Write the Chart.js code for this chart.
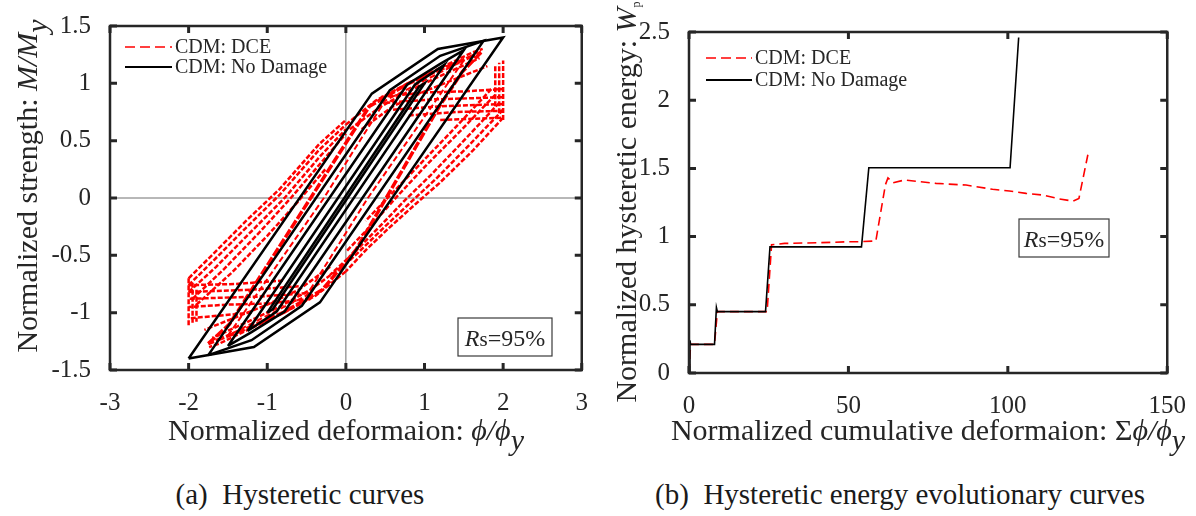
<!DOCTYPE html>
<html>
<head>
<meta charset="utf-8">
<script src="https://cdn.jsdelivr.net/npm/chart.js@4.4.1/dist/chart.umd.min.js"></script>
<style>
  body { margin: 0; width: 1196px; height: 516px; background: #fff; position: relative; overflow: hidden; }
  .panel { position: absolute; top: 0; width: 598px; height: 470px; }
  .caption { position: absolute; top: 478px; height: 36px; line-height: 36px; text-align: center;
             font: 29px 'Liberation Serif', 'Times New Roman', serif; color: #1a1a1a; white-space: pre; }
</style>
</head>
<body>
<div class="panel" style="left:0"><canvas id="hyst" width="598" height="470"></canvas></div>
<div class="panel" style="left:598px"><canvas id="energy" width="598" height="470"></canvas></div>
<div class="caption" style="left:0;width:600px">(a)  Hysteretic curves</div>
<div class="caption" style="left:598px;width:604px">(b)  Hysteretic energy evolutionary curves</div>
<script>
const FONT = "'Liberation Serif', 'Times New Roman', serif";
const INK = '#262626';
const RED = '#ff0000';

// ---- (a) hysteretic curves ----
const hystXTicks = [-3, -2, -1, 0, 1, 2, 3];
const hystYTicks = [-1.5, -1, -0.5, 0, 0.5, 1, 1.5];

// reference lines through the origin
const zeroH = [[-3, 0], [3, 0]];
const zeroV = [[0, -1.5], [0, 1.5]];

// CDM: No Damage, one closed loop per amplitude
const loop200 = [[-2, -1.4], [0.33, 0.91], [1.17, 1.3], [2, 1.4], [-0.33, -0.91], [-1.17, -1.3], [-2, -1.4]];
const loop175 = [[-1.75, -1.37], [0.56, 0.94], [1.2, 1.24], [1.75, 1.37], [-0.56, -0.94], [-1.2, -1.24], [-1.75, -1.37]];
const loop150 = [[-1.5, -1.29], [0.78, 0.99], [1.2, 1.17], [1.5, 1.29], [-0.78, -0.99], [-1.2, -1.17], [-1.5, -1.29]];
const loop125 = [[-1.25, -1.16], [0.88, 0.99], [1.25, 1.16], [-0.88, -0.99], [-1.25, -1.16]];
const loop100 = [[-1, -1.0], [0.93, 0.97], [1, 1.0], [-0.93, -0.97], [-1, -1.0]];

// CDM: DCE, traced strand by strand
// band rising from the left end towards (0, 0.6)
const dceUL1 = [[-2, -0.7], [-1.69, -0.49], [-1.27, -0.2], [-0.84, 0.08], [-0.34, 0.47], [0, 0.68]];
const dceUL2 = [[-2, -0.76], [-1.69, -0.55], [-1.27, -0.26], [-0.84, 0.03], [-0.34, 0.42], [0, 0.64]];
const dceUL3 = [[-2, -0.82], [-1.65, -0.6], [-1.2, -0.29], [-0.78, 0.0], [-0.32, 0.37], [0, 0.6]];
const dceUL4 = [[-1.95, -0.88], [-1.55, -0.62], [-1.1, -0.3], [-0.7, 0.0], [-0.3, 0.32], [0, 0.56]];
const dceUL5 = [[-1.9, -0.93], [-1.45, -0.65], [-1.0, -0.33], [-0.62, -0.04], [-0.25, 0.26]];
// band falling from the right end towards (0, -0.6)
const dceLR1 = [[2, 0.7], [1.61, 0.41], [1.19, 0.13], [0.89, -0.05], [0.55, -0.26], [0.26, -0.45], [0, -0.64]];
const dceLR2 = [[2, 0.77], [1.58, 0.47], [1.15, 0.17], [0.82, -0.04], [0.48, -0.26], [0.18, -0.46], [-0.1, -0.64]];
const dceLR3 = [[1.95, 0.83], [1.5, 0.5], [1.08, 0.2], [0.75, -0.02], [0.4, -0.27], [0.1, -0.48], [-0.2, -0.67]];
const dceLR4 = [[1.9, 0.9], [1.45, 0.58], [1.0, 0.27], [0.66, 0.02], [0.32, -0.24], [0, -0.47]];
const dceLR5 = [[1.85, 0.95], [1.4, 0.62], [0.95, 0.3], [0.6, 0.05], [0.25, -0.2]];
// upper right cap
const dceUREnv1 = [[0, 0.64], [0.38, 0.85], [0.76, 0.99], [1.19, 1.13], [1.61, 1.27], [1.74, 1.3]];
const dceUREnv2 = [[0.05, 0.6], [0.45, 0.8], [0.85, 0.95], [1.25, 1.08], [1.7, 1.22]];
const dceUREnv3 = [[0.2, 0.6], [0.6, 0.8], [1.0, 0.93], [1.4, 1.04], [1.8, 1.15]];
const dceURH1 = [[0.45, 0.88], [1.0, 0.92], [1.5, 0.93], [2, 0.95]];
const dceURH2 = [[0.5, 0.83], [1.1, 0.86], [1.6, 0.87], [2, 0.88]];
const dceURH3 = [[0.6, 0.77], [1.2, 0.8], [2, 0.82]];
const dceURH4 = [[0.8, 0.72], [1.4, 0.75], [2, 0.76]];
const dceURH5 = [[1.2, 0.68], [2, 0.7]];
const dceRight1 = [[2, 0.68], [2, 1.2]];
const dceRight2 = [[1.95, 0.74], [1.95, 1.18]];
const dceRight3 = [[1.9, 0.8], [1.9, 1.15]];
// lower left cap
const dceLLEnv1 = [[0, -0.64], [-0.38, -0.85], [-0.76, -0.99], [-1.19, -1.13], [-1.61, -1.27], [-1.74, -1.3]];
const dceLLEnv2 = [[-0.05, -0.6], [-0.45, -0.8], [-0.85, -0.95], [-1.25, -1.08], [-1.7, -1.22]];
const dceLLEnv3 = [[-0.2, -0.6], [-0.6, -0.8], [-1.0, -0.93], [-1.4, -1.04], [-1.8, -1.15]];
const dceLLH1 = [[-0.45, -0.88], [-1.0, -0.92], [-1.5, -0.93], [-2, -0.95]];
const dceLLH2 = [[-0.5, -0.83], [-1.1, -0.86], [-1.6, -0.87], [-2, -0.88]];
const dceLLH3 = [[-0.6, -0.77], [-1.2, -0.8], [-2, -0.82]];
const dceLLH4 = [[-0.8, -0.72], [-1.4, -0.75], [-2, -0.76]];
const dceLLH5 = [[-1.2, -1.0], [-2, -1.05]];
const dceLeft1 = [[-2, -0.7], [-2, -1.12]];
const dceLeft2 = [[-1.95, -0.74], [-1.95, -1.1]];
const dceLeft3 = [[-1.9, -0.8], [-1.9, -1.08]];
// inner cycles that stay close to the undamaged loops
const dceInnerUp = [[-1.75, -1.27], [-1.48, -1.1], [-0.42, 0.03], [0.3, 0.8], [0.8, 1.0], [1.3, 1.15], [1.72, 1.27]];
const dceInnerDown = [[1.72, 1.27], [1.48, 1.1], [1.19, 0.8], [0.13, -0.45], [-0.3, -0.8], [-0.8, -1.0], [-1.3, -1.15], [-1.75, -1.27]];
const dceInner2Up = [[-1.5, -1.2], [-0.28, 0.0], [0.5, 0.85], [1.5, 1.2]];
const dceInner2Down = [[1.5, 1.2], [0.28, 0.0], [-0.5, -0.85], [-1.5, -1.2]];

// ---- (b) hysteretic energy evolution ----
const energyXTicks = [0, 50, 100, 150];
const energyYTicks = [0, 0.5, 1, 1.5, 2, 2.5];
const cumDefNoDamage = [0, 0.3, 0.5, 8.0, 8.6, 8.9, 24.0, 25.4, 54.1, 56.4, 100.7, 103.4];
const energyNoDamage = [0, 0.24, 0.21, 0.21, 0.48, 0.45, 0.45, 0.925, 0.925, 1.505, 1.505, 2.46];
const cumDefDCE = [0, 0.5, 8.0, 8.9, 24.5, 25.9, 30, 40, 50, 54.2, 58.6, 61.6, 62.4, 64.0, 67.6, 77.5, 86.9, 95.2, 100.5, 105.7, 110.9, 116.2, 120.4, 122.3, 125.1];
const energyDCE = [0, 0.21, 0.21, 0.45, 0.45, 0.94, 0.95, 0.955, 0.962, 0.963, 0.968, 1.38, 1.43, 1.395, 1.415, 1.39, 1.378, 1.347, 1.334, 1.317, 1.305, 1.276, 1.26, 1.28, 1.6];

const legendItems = [
  { label: 'CDM: DCE', color: RED, dash: [10, 5], width: 1.5 },
  { label: 'CDM: No Damage', color: '#000', dash: [], width: 2 }
];

const line = (data, color, width, dash, order) => ({
  data, showLine: true, borderColor: color, borderWidth: width, borderDash: dash,
  pointRadius: 0, borderJoinStyle: 'miter', fill: false, tension: 0, order
});

const toXY = (xs, ys) => xs.map((x, i) => ({ x, y: ys[i] }));

// draws a run of mixed upright / italic text centred on (cx, cy)
function drawRuns(ctx, runs, cx, cy, size, vertical) {
  ctx.save();
  ctx.translate(cx, cy);
  if (vertical) ctx.rotate(-Math.PI / 2);
  ctx.fillStyle = INK;
  ctx.textBaseline = 'alphabetic';
  const fontOf = r => (r.i ? 'italic ' : '') + (r.size || size) + 'px ' + FONT;
  let total = 0;
  const widths = runs.map(r => {
    ctx.font = fontOf(r);
    const w = ctx.measureText(r.t).width;
    total += w;
    return w;
  });
  let pos = -total / 2;
  runs.forEach((r, k) => {
    ctx.font = fontOf(r);
    ctx.fillText(r.t, pos, r.dy || 0);
    pos += widths[k];
  });
  ctx.restore();
}

// matlab style box with inward ticks on all four sides
const frame = {
  id: 'frame',
  afterDraw(chart) {
    const { ctx, chartArea: a, scales: { x, y } } = chart;
    ctx.save();
    ctx.strokeStyle = INK;
    ctx.lineWidth = 3;
    ctx.beginPath();
    x.ticks.forEach(t => {
      const p = x.getPixelForValue(t.value);
      ctx.moveTo(p, a.bottom); ctx.lineTo(p, a.bottom - 7);
      ctx.moveTo(p, a.top); ctx.lineTo(p, a.top + 7);
    });
    y.ticks.forEach(t => {
      const p = y.getPixelForValue(t.value);
      ctx.moveTo(a.left, p); ctx.lineTo(a.left + 7, p);
      ctx.moveTo(a.right, p); ctx.lineTo(a.right - 7, p);
    });
    ctx.stroke();
    ctx.lineWidth = 2.5;
    ctx.strokeRect(a.left, a.top, a.right - a.left, a.bottom - a.top);
    ctx.restore();
  }
};

function decorations(cfg) {
  return {
    id: 'decor',
    afterDraw(chart) {
      const ctx = chart.ctx;
      drawRuns(ctx, cfg.xTitle, cfg.xTitleAt[0], cfg.xTitleAt[1], 30, false);
      drawRuns(ctx, cfg.yTitle, cfg.yTitleAt[0], cfg.yTitleAt[1], 30, true);

      // legend
      ctx.save();
      legendItems.forEach((it, k) => {
        const ly = cfg.legend.y + k * cfg.legend.step;
        ctx.strokeStyle = it.color;
        ctx.lineWidth = it.width;
        ctx.setLineDash(it.dash);
        ctx.beginPath();
        ctx.moveTo(cfg.legend.x0, ly);
        ctx.lineTo(cfg.legend.x1, ly);
        ctx.stroke();
        ctx.setLineDash([]);
        ctx.fillStyle = INK;
        ctx.font = '20px ' + FONT;
        ctx.textBaseline = 'middle';
        ctx.fillText(it.label, cfg.legend.x1 + 3, ly + 1);
      });
      ctx.restore();

      // Rs box
      const b = cfg.rsBox;
      ctx.save();
      ctx.fillStyle = '#fff';
      ctx.fillRect(b[0], b[1], b[2] - b[0], b[3] - b[1]);
      ctx.strokeStyle = '#3a3a3a';
      ctx.lineWidth = 1.2;
      ctx.strokeRect(b[0], b[1], b[2] - b[0], b[3] - b[1]);
      ctx.restore();
      drawRuns(ctx, [{ t: 'R', i: 1 }, { t: 's', size: 21 }, { t: '=95%' }],
        (b[0] + b[2]) / 2, b[3] - 10, 24, false);
    }
  };
}

function axis(ticks, fitKey, fitVal, padding) {
  return {
    type: 'linear',
    min: ticks[0],
    max: ticks[ticks.length - 1],
    afterBuildTicks: ax => { ax.ticks = ticks.map(v => ({ value: v })); },
    afterFit: ax => { ax[fitKey] = fitVal; },
    grid: { display: false },
    border: { display: false },
    ticks: { font: { family: FONT, size: 25 }, color: INK, padding, maxRotation: 0, callback: v => `${v}` }
  };
}

const baseOptions = {
  responsive: false,
  animation: false,
  devicePixelRatio: 1,
  plugins: { legend: { display: false }, tooltip: { enabled: false } }
};

const dceStrands = [dceUL1, dceUL2, dceUL3, dceUL4, dceUL5, dceLR1, dceLR2, dceLR3, dceLR4, dceLR5,
  dceUREnv1, dceUREnv2, dceUREnv3, dceURH1, dceURH2, dceURH3, dceURH4, dceURH5, dceRight1, dceRight2, dceRight3,
  dceLLEnv1, dceLLEnv2, dceLLEnv3, dceLLH1, dceLLH2, dceLLH3, dceLLH4, dceLLH5, dceLeft1, dceLeft2, dceLeft3];

new Chart(document.getElementById('hyst'), {
  type: 'scatter',
  data: {
    datasets: [
      ...[loop200, loop175, loop150, loop125, loop100].map(d => line(d, '#000', 2.5, [], 0)),
      line(dceInnerUp, RED, 3.5, [9, 2], 1),
      line(dceInnerDown, RED, 3.5, [9, 2], 1),
      line(dceInner2Up, RED, 2, [6, 3], 1),
      line(dceInner2Down, RED, 2, [6, 3], 1),
      ...dceStrands.map(d => line(d, RED, 2.5, [5, 2], 1)),
      line(zeroH, '#707070', 1, [], 2),
      line(zeroV, '#707070', 1, [], 2)
    ]
  },
  options: {
    ...baseOptions,
    layout: { padding: { left: 0, right: 15, top: 18, bottom: 0 } },
    scales: {
      x: axis(hystXTicks, 'height', 100, 10),
      y: axis(hystYTicks, 'width', 110, 11)
    }
  },
  plugins: [frame, decorations({
    xTitle: [{ t: 'Normalized deformaion: ' }, { t: 'ϕ/ϕ', i: 1 }, { t: 'y', i: 1, dy: 10 }],
    xTitleAt: [346, 440],
    yTitle: [{ t: 'Normalized strength: ' }, { t: 'M/M', i: 1 }, { t: 'y', i: 1, dy: 10 }],
    yTitleAt: [37, 186],
    legend: { x0: 125, x1: 172, y: 47, step: 20 },
    rsBox: [458, 318, 552, 356]
  })]
});

new Chart(document.getElementById('energy'), {
  type: 'scatter',
  data: {
    datasets: [
      line(toXY(cumDefNoDamage, energyNoDamage), '#000', 1.6, [], 0),
      line(toXY(cumDefDCE, energyDCE), RED, 1.6, [9, 5], 1)
    ]
  },
  options: {
    ...baseOptions,
    layout: { padding: { left: 0, right: 28, top: 32, bottom: 0 } },
    scales: {
      x: axis(energyXTicks, 'height', 97, 10),
      y: axis(energyYTicks, 'width', 91, 11)
    }
  },
  plugins: [frame, decorations({
    xTitle: [{ t: 'Normalized cumulative deformaion: ' }, { t: 'Σ' }, { t: 'ϕ/ϕ', i: 1 }, { t: 'y', i: 1, dy: 10 }],
    xTitleAt: [330, 440],
    yTitle: [{ t: 'Normalized hysteretic energy: ' }, { t: 'W', i: 1 }, { t: 'p', size: 12, dy: 4 }],
    yTitleAt: [38, 202],
    legend: { x0: 108, x1: 154, y: 58, step: 22 },
    rsBox: [421, 219, 511, 257]
  })]
});
</script>
</body>
</html>
